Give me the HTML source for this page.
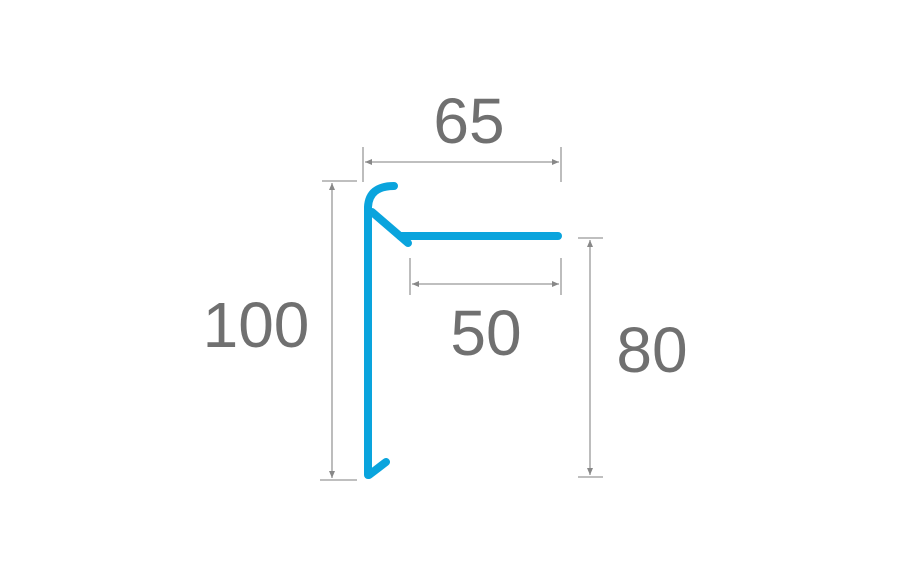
<!DOCTYPE html>
<html><head><meta charset="utf-8"><style>
html,body{margin:0;padding:0;background:#fff;}
svg{display:block}
text{font-family:"Liberation Sans",sans-serif;fill:#707070;font-size:64px;}
</style></head><body>
<svg width="900" height="570" viewBox="0 0 900 570" xmlns="http://www.w3.org/2000/svg">
<g stroke="#999" stroke-width="1.3" fill="none">
<line x1="363" y1="147" x2="363" y2="182"/>
<line x1="561" y1="147" x2="561" y2="182"/>
<line x1="365" y1="162" x2="559" y2="162"/>
<line x1="322" y1="181" x2="357" y2="181"/>
<line x1="320" y1="480" x2="357" y2="480"/>
<line x1="332" y1="183" x2="332" y2="478"/>
<line x1="410" y1="258" x2="410" y2="295"/>
<line x1="561" y1="258" x2="561" y2="295"/>
<line x1="412" y1="284" x2="559" y2="284"/>
<line x1="578" y1="238" x2="603" y2="238"/>
<line x1="578" y1="477" x2="603" y2="477"/>
<line x1="590" y1="240" x2="590" y2="475"/>
</g>
<g fill="#888">
<polygon points="365,162 372,159 372,165"/>
<polygon points="559,162 552,159 552,165"/>
<polygon points="412,284 419,281 419,287"/>
<polygon points="559,284 552,281 552,287"/>
<polygon points="332,183 329,190 335,190"/>
<polygon points="332,478 329,471 335,471"/>
<polygon points="590,240 587,247 593,247"/>
<polygon points="590,475 587,468 593,468"/>
</g>
<g stroke="#0aa4dd" stroke-width="8" fill="none" stroke-linecap="round" stroke-linejoin="round">
<path d="M368,475 L368,207 Q369,186 394,186"/>
<path d="M369,475 L386,462"/>
<path d="M372,212 L408,243"/>
<path d="M400,236 L558,236"/>
</g>
<text x="469" y="143" text-anchor="middle">65</text>
<text x="256" y="347" text-anchor="middle">100</text>
<text x="486" y="355" text-anchor="middle">50</text>
<text x="652" y="372" text-anchor="middle">80</text>
</svg>
</body></html>
